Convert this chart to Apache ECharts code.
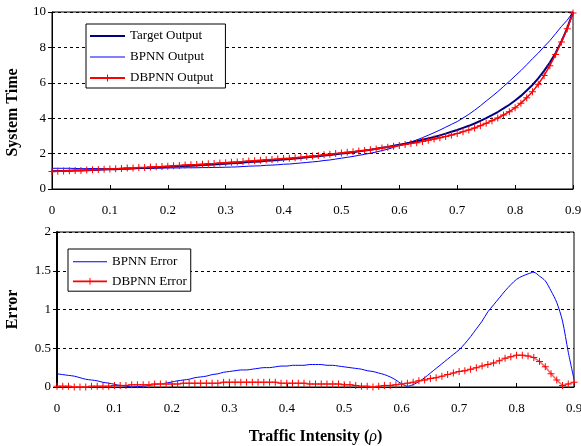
<!DOCTYPE html>
<html>
<head>
<meta charset="utf-8">
<script src="https://cdn.jsdelivr.net/npm/echarts@6/dist/echarts.min.js"></script>
<style>
  html, body { margin: 0; padding: 0; background: #fff; }
  #chart { width: 581px; height: 446px; }
</style>
</head>
<body>
<div id="chart"></div>
<script>
// traffic intensity (rho)
var rho = [0.00, 0.01, 0.02, 0.03, 0.04, 0.05, 0.06, 0.07, 0.08, 0.09,
  0.10, 0.11, 0.12, 0.13, 0.14, 0.15, 0.16, 0.17, 0.18, 0.19,
  0.20, 0.21, 0.22, 0.23, 0.24, 0.25, 0.26, 0.27, 0.28, 0.29,
  0.30, 0.31, 0.32, 0.33, 0.34, 0.35, 0.36, 0.37, 0.38, 0.39,
  0.40, 0.41, 0.42, 0.43, 0.44, 0.45, 0.46, 0.47, 0.48, 0.49,
  0.50, 0.51, 0.52, 0.53, 0.54, 0.55, 0.56, 0.57, 0.58, 0.59,
  0.60, 0.61, 0.62, 0.63, 0.64, 0.65, 0.66, 0.67, 0.68, 0.69,
  0.70, 0.71, 0.72, 0.73, 0.74, 0.75, 0.76, 0.77, 0.78, 0.79,
  0.80, 0.81, 0.82, 0.83, 0.84, 0.85, 0.86, 0.87, 0.88, 0.89, 0.90];

var targetOutput = [1.00, 1.01, 1.02, 1.03, 1.04, 1.05, 1.06, 1.08, 1.09, 1.10,
  1.11, 1.12, 1.14, 1.15, 1.16, 1.18, 1.19, 1.20, 1.22, 1.23,
  1.25, 1.27, 1.28, 1.30, 1.32, 1.33, 1.35, 1.37, 1.39, 1.41,
  1.43, 1.45, 1.47, 1.49, 1.52, 1.54, 1.56, 1.59, 1.61, 1.64,
  1.67, 1.69, 1.72, 1.75, 1.79, 1.82, 1.85, 1.89, 1.92, 1.96,
  2.00, 2.04, 2.08, 2.13, 2.17, 2.22, 2.27, 2.33, 2.38, 2.44,
  2.50, 2.56, 2.63, 2.70, 2.78, 2.86, 2.94, 3.03, 3.13, 3.23,
  3.33, 3.45, 3.57, 3.70, 3.85, 4.00, 4.17, 4.35, 4.55, 4.76,
  5.00, 5.26, 5.56, 5.88, 6.25, 6.67, 7.14, 7.69, 8.33, 9.09, 10.0];

var bpnnOutput = [1.17, 1.17, 1.17, 1.17, 1.16, 1.15, 1.15, 1.16, 1.15, 1.15,
  1.15, 1.14, 1.15, 1.15, 1.155, 1.17, 1.17, 1.17, 1.18, 1.18,
  1.185, 1.19, 1.19, 1.20, 1.20, 1.20, 1.21, 1.21, 1.22, 1.22,
  1.23, 1.24, 1.25, 1.27, 1.29, 1.30, 1.31, 1.34, 1.35, 1.37,
  1.40, 1.41, 1.44, 1.47, 1.50, 1.53, 1.56, 1.61, 1.64, 1.69,
  1.74, 1.79, 1.84, 1.90, 1.96, 2.02, 2.09, 2.17, 2.25, 2.35,
  2.46, 2.57, 2.66, 2.77, 2.90, 3.04, 3.18, 3.33, 3.49, 3.65,
  3.81, 4.01, 4.22, 4.45, 4.70, 4.97, 5.23, 5.50, 5.79, 6.08,
  6.39, 6.69, 7.02, 7.36, 7.68, 8.04, 8.38, 8.78, 9.18, 9.54, 10.0];

var dbpnnOutput = [0.99, 1.00, 1.01, 1.03, 1.04, 1.05, 1.07, 1.09, 1.10, 1.11,
  1.13, 1.14, 1.16, 1.18, 1.19, 1.21, 1.22, 1.24, 1.26, 1.27,
  1.29, 1.31, 1.33, 1.35, 1.37, 1.38, 1.40, 1.42, 1.44, 1.47,
  1.49, 1.51, 1.53, 1.55, 1.58, 1.60, 1.62, 1.65, 1.67, 1.69,
  1.72, 1.74, 1.77, 1.80, 1.83, 1.86, 1.89, 1.93, 1.96, 2.00,
  2.03, 2.07, 2.10, 2.14, 2.18, 2.22, 2.26, 2.31, 2.36, 2.41,
  2.46, 2.51, 2.57, 2.62, 2.69, 2.75, 2.82, 2.89, 2.97, 3.05,
  3.13, 3.24, 3.34, 3.45, 3.58, 3.71, 3.86, 4.01, 4.18, 4.37,
  4.59, 4.85, 5.16, 5.50, 5.92, 6.41, 6.97, 7.60, 8.31, 9.05, 9.94];

var bpnnError = [0.17, 0.16, 0.15, 0.14, 0.12, 0.10, 0.09, 0.08, 0.06, 0.05,
  0.035, 0.02, 0.01, 0.00, 0.005, 0.01, 0.02, 0.03, 0.04, 0.05,
  0.065, 0.08, 0.09, 0.10, 0.12, 0.13, 0.14, 0.16, 0.17, 0.19,
  0.20, 0.21, 0.22, 0.22, 0.23, 0.24, 0.25, 0.25, 0.26, 0.27,
  0.27, 0.28, 0.28, 0.28, 0.29, 0.29, 0.29, 0.28, 0.28, 0.27,
  0.26, 0.25, 0.24, 0.23, 0.21, 0.20, 0.18, 0.16, 0.13, 0.09,
  0.04, 0.01, 0.03, 0.07, 0.12, 0.18, 0.24, 0.30, 0.36, 0.42,
  0.48, 0.56, 0.65, 0.75, 0.85, 0.97, 1.06, 1.15, 1.24, 1.32,
  1.39, 1.43, 1.46, 1.48, 1.43, 1.37, 1.24, 1.09, 0.85, 0.45, 0.10];

var dbpnnError = [0.01, 0.01, 0.01, 0.00, 0.00, 0.00, 0.01, 0.01, 0.01, 0.01,
  0.02, 0.02, 0.02, 0.03, 0.03, 0.03, 0.03, 0.04, 0.04, 0.04,
  0.04, 0.04, 0.05, 0.05, 0.05, 0.05, 0.05, 0.05, 0.05, 0.06,
  0.06, 0.06, 0.06, 0.06, 0.06, 0.06, 0.06, 0.06, 0.06, 0.05,
  0.05, 0.05, 0.05, 0.05, 0.04, 0.04, 0.04, 0.04, 0.04, 0.04,
  0.03, 0.03, 0.02, 0.01, 0.01, 0.00, 0.01, 0.02, 0.02, 0.03,
  0.04, 0.05, 0.06, 0.08, 0.09, 0.11, 0.12, 0.14, 0.16, 0.18,
  0.20, 0.21, 0.23, 0.25, 0.27, 0.29, 0.31, 0.34, 0.37, 0.39,
  0.41, 0.41, 0.40, 0.38, 0.33, 0.26, 0.17, 0.09, 0.02, 0.04, 0.06];

var serif = '"Liberation Serif", "Times New Roman", serif';
// little plus sign used as the marker
var plus = 'path://M3,0h1v3h3v1h-3v3h-1v-3h-3v-1h3z';
// legend icons: tiny corner dots keep the box 35x14 so the line keeps its thickness
var iconThick = 'path://M0,0h0.1v0.1h-0.1zM0,6h35v2h-35zM34.9,13.9h0.1v0.1h-0.1z';
var iconThin = 'path://M0,0h0.1v0.1h-0.1zM0,6.5h35v1h-35zM34.9,13.9h0.1v0.1h-0.1z';
var iconPlus = 'path://M0,0h0.1v0.1h-0.1zM0,6h35v2h-35zM17,3.5h1v7h-1zM34.9,13.9h0.1v0.1h-0.1z';

function pairs(ys) {
    return rho.map(function (x, i) { return [x, ys[i]]; });
}

var chart = echarts.init(document.getElementById('chart'));

var xAxisBase = {
    type: 'value',
    min: 0,
    max: 0.9,
    interval: 0.1,
    axisLine: { lineStyle: { color: '#000', width: 1 } },
    axisTick: { inside: true, length: 4, lineStyle: { color: '#000' } },
    axisLabel: { color: '#000', fontFamily: serif, fontSize: 13, margin: 15 },
    splitLine: { show: false }
};

var legendBase = {
    orient: 'vertical',
    borderColor: '#000', borderWidth: 1,
    backgroundColor: '#fff',
    itemWidth: 35,
    itemHeight: 14,
    textStyle: { fontFamily: serif, fontSize: 13, color: '#000' }
};

var option = {
    backgroundColor: '#fff',
    animation: false,
    grid: [
        { left: 52, right: 8, top: 12, height: 177, show: true, borderColor: '#000', borderWidth: 1, outerBoundsMode: 'none' },
        { left: 57, right: 7, top: 232, height: 155, show: true, borderColor: '#000', borderWidth: 1, outerBoundsMode: 'none' }
    ],
    legend: [
        Object.assign({}, legendBase, {
            left: 86, top: 24,
            padding: [5, 12, 3, 4],
            itemGap: 7,
            data: [
                { name: 'Target Output', icon: iconThick },
                { name: 'BPNN Output', icon: iconThin },
                { name: 'DBPNN Output', icon: iconPlus }
            ]
        }),
        Object.assign({}, legendBase, {
            left: 68, top: 249,
            padding: [6, 4, 3, 5],
            itemGap: 6,
            itemWidth: 34,
            data: [
                { name: 'BPNN Error', icon: iconThin },
                { name: 'DBPNN Error', icon: iconPlus }
            ]
        })
    ],
    xAxis: [
        Object.assign({ gridIndex: 0 }, xAxisBase),
        Object.assign({ gridIndex: 1 }, xAxisBase, {
            name: '{b|Traffic Intensity (}{i|ρ}{b|)}',
            nameLocation: 'middle',
            nameGap: 42,
            nameTextStyle: {
                rich: {
                    b: { fontFamily: serif, fontSize: 16, fontWeight: 'bold', color: '#000' },
                    i: { fontFamily: serif, fontSize: 16, fontStyle: 'italic', color: '#000' }
                }
            }
        })
    ],
    yAxis: [{
        gridIndex: 0,
        type: 'value',
        min: 0, max: 10, interval: 2,
        name: 'System Time',
        nameLocation: 'middle',
        nameGap: 31,
        nameTextStyle: { fontFamily: serif, fontSize: 16, fontWeight: 'bold', color: '#000', padding: [0, 24, 0, 0] },
        axisLine: { show: true, lineStyle: { color: '#000', width: 1 } },
        axisTick: { show: true, length: 4, lineStyle: { color: '#000' } },
        axisLabel: { color: '#000', fontFamily: serif, fontSize: 13, margin: 6 },
        splitLine: { lineStyle: { color: '#000', type: [3, 3], width: 1 } }
    }, {
        gridIndex: 1,
        type: 'value',
        min: 0, max: 2, interval: 0.5,
        name: 'Error',
        nameLocation: 'middle',
        nameGap: 36,
        nameTextStyle: { fontFamily: serif, fontSize: 16, fontWeight: 'bold', color: '#000' },
        axisLine: { show: true, lineStyle: { color: '#000', width: 2 } },
        axisTick: { show: true, length: 4, lineStyle: { color: '#000' } },
        axisLabel: { color: '#000', fontFamily: serif, fontSize: 13, margin: 6 },
        splitLine: { lineStyle: { color: '#000', type: [3, 3], width: 1 } }
    }],
    series: [{
        name: 'Target Output',
        type: 'line',
        xAxisIndex: 0, yAxisIndex: 0,
        data: pairs(targetOutput),
        showSymbol: false,
        symbol: 'none',
        lineStyle: { color: '#000080', width: 2 },
        itemStyle: { color: '#000080' },
        z: 3
    }, {
        name: 'BPNN Output',
        type: 'line',
        xAxisIndex: 0, yAxisIndex: 0,
        data: pairs(bpnnOutput),
        showSymbol: false,
        symbol: 'none',
        lineStyle: { color: '#0000ff', width: 1 },
        itemStyle: { color: '#0000ff' },
        z: 2
    }, {
        name: 'DBPNN Output',
        type: 'line',
        xAxisIndex: 0, yAxisIndex: 0,
        data: pairs(dbpnnOutput),
        symbol: plus,
        symbolSize: 7,
        showAllSymbol: true,
        lineStyle: { color: '#ff0000', width: 1.5 },
        itemStyle: { color: '#ff0000' },
        z: 4
    }, {
        name: 'BPNN Error',
        type: 'line',
        xAxisIndex: 1, yAxisIndex: 1,
        data: pairs(bpnnError),
        smooth: 0.3,
        showSymbol: false,
        symbol: 'none',
        lineStyle: { color: '#0000ff', width: 1 },
        itemStyle: { color: '#0000ff' },
        z: 2
    }, {
        name: 'DBPNN Error',
        type: 'line',
        xAxisIndex: 1, yAxisIndex: 1,
        data: pairs(dbpnnError),
        symbol: plus,
        symbolSize: 7,
        showAllSymbol: true,
        lineStyle: { color: '#ff6060', width: 1.5 },
        itemStyle: { color: '#ff0000' },
        z: 3
    }]
};

chart.setOption(option);
</script>
</body>
</html>
